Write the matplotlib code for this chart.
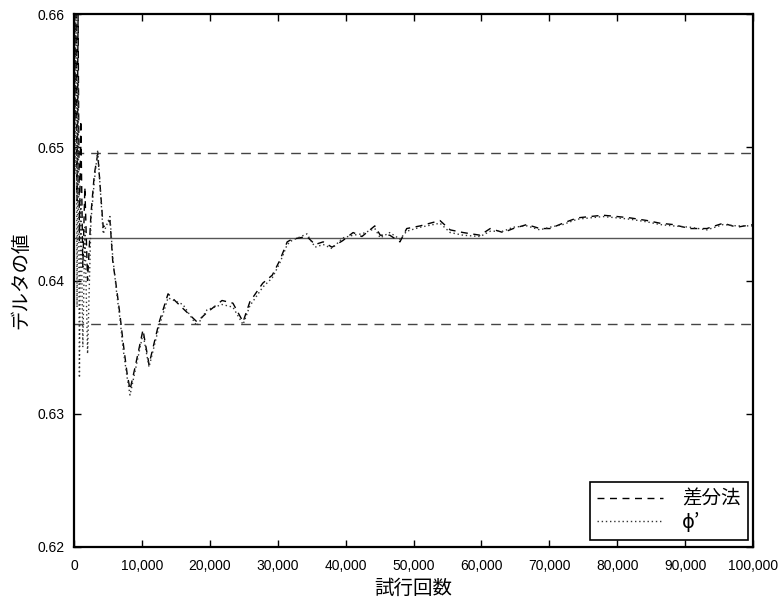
import matplotlib
matplotlib.use("Agg")
import matplotlib.pyplot as plt
from matplotlib.ticker import FuncFormatter, MultipleLocator

plt.rcParams["font.family"] = ["Liberation Sans", "Noto Sans CJK JP", "DejaVu Sans"]
jp_font = ["Noto Sans CJK JP", "DejaVu Sans"]

# 試行回数
trials = [0, 150, 300, 450, 600, 800, 1000, 1300, 1600, 2000,
          2500, 3000, 3500, 4300, 5300, 5700, 6300, 6800, 7200, 7800,
          8250, 9000, 10160, 11050, 12500, 13850, 16050, 18100, 19600, 21800,
          23400, 24900, 25900, 27800, 29200, 30300, 31400, 32100, 34300, 35500,
          36700, 38000, 39600, 41100, 42400, 44300, 45100, 46500, 48000, 49000,
          51000, 53900, 55400, 57300, 59800, 61300, 63200, 64700, 66700, 68600,
          70100, 72000, 74100, 76000, 77900, 80000, 81900, 84400, 86300, 88200,
          90700, 93200, 95600, 97600, 100000]

# 差分法
delta_diff = [0.675, 0.652, 0.668, 0.646, 0.660, 0.643, 0.652, 0.641, 0.647, 0.640,
              0.645, 0.648, 0.6495, 0.6440, 0.6445, 0.6415, 0.6393, 0.6373, 0.6355, 0.6331,
              0.6318, 0.6335, 0.6363, 0.6337, 0.6368, 0.6390, 0.6379, 0.6369, 0.6376, 0.6385,
              0.6383, 0.6369, 0.6384, 0.6398, 0.6404, 0.6415, 0.6429, 0.6431, 0.6433, 0.6427,
              0.6429, 0.6425, 0.6430, 0.6436, 0.6433, 0.6441, 0.6434, 0.6434, 0.6429, 0.6439,
              0.6441, 0.6445, 0.6438, 0.6436, 0.6434, 0.6439, 0.6436, 0.6439, 0.6442, 0.6439,
              0.6439, 0.6443, 0.6447, 0.6448, 0.6449, 0.6448, 0.6447, 0.6445, 0.6443, 0.6442,
              0.6439, 0.6439, 0.6443, 0.6440, 0.6442]

# φ'
delta_phi = [0.670, 0.648, 0.664, 0.638, 0.655, 0.6327, 0.646, 0.635, 0.644, 0.6345,
             0.6445, 0.6475, 0.6498, 0.6435, 0.6448, 0.6418, 0.6390, 0.6370, 0.6350, 0.6328,
             0.6314, 0.6332, 0.6360, 0.6335, 0.6365, 0.6387, 0.6382, 0.6366, 0.6378, 0.6382,
             0.6380, 0.6367, 0.6381, 0.6395, 0.6402, 0.6413, 0.6427, 0.6430, 0.6435, 0.6425,
             0.6427, 0.6424, 0.6432, 0.6434, 0.6435, 0.6439, 0.6432, 0.6436, 0.6431, 0.6437,
             0.6440, 0.6443, 0.6436, 0.6434, 0.6433, 0.6437, 0.6437, 0.6440, 0.6441, 0.6438,
             0.6440, 0.6442, 0.6446, 0.6447, 0.6448, 0.6447, 0.6446, 0.6444, 0.6442, 0.6441,
             0.6440, 0.6438, 0.6442, 0.6441, 0.6441]

true_value = 0.6432
band_upper = 0.6496
band_lower = 0.6367

fig = plt.figure(figsize=(7.78, 6.02), dpi=100)
ax = fig.add_axes([0.0951, 0.0914, 0.8728, 0.8853])

ax.axhline(true_value, color="#555555", lw=1.0)
ax.axhline(band_upper, color="#444444", lw=1.0, ls=(0, (7, 5)))
ax.axhline(band_lower, color="#444444", lw=1.0, ls=(0, (7, 5)))

ax.plot(trials, delta_diff, color="black", lw=1.0, ls=(0, (5, 4)), label="差分法")
ax.plot(trials, delta_phi, color="#333333", lw=1.0, ls=(0, (1, 2)), label="ϕ’")

ax.set_xlim(0, 100000)
ax.set_ylim(0.62, 0.66)
ax.xaxis.set_major_locator(MultipleLocator(10000))
ax.yaxis.set_major_locator(MultipleLocator(0.01))
ax.xaxis.set_major_formatter(FuncFormatter(lambda v, p: "{:,.0f}".format(v)))
ax.yaxis.set_major_formatter(FuncFormatter(lambda v, p: "%.2f" % v))
ax.tick_params(direction="in", top=True, right=True, length=5, width=1,
               labelsize=10)
ax.tick_params(axis="x", pad=9)
ax.tick_params(axis="y", pad=7)
for s in ax.spines.values():
    s.set_linewidth(1.6)

ax.set_xlabel("試行回数", fontsize=14, family=jp_font, labelpad=3)
ax.set_ylabel("デルタの値", fontsize=14, family=jp_font, labelpad=4)

leg = ax.legend(loc="lower right", bbox_to_anchor=(0.992, 0.013), borderaxespad=0,
                fancybox=False, framealpha=1, edgecolor="black", handlelength=3.4,
                handletextpad=1.0, prop={"family": jp_font, "size": 14},
                borderpad=0.35, labelspacing=0.15)
leg.get_frame().set_linewidth(1.2)

plt.savefig("out.png", dpi=100)
